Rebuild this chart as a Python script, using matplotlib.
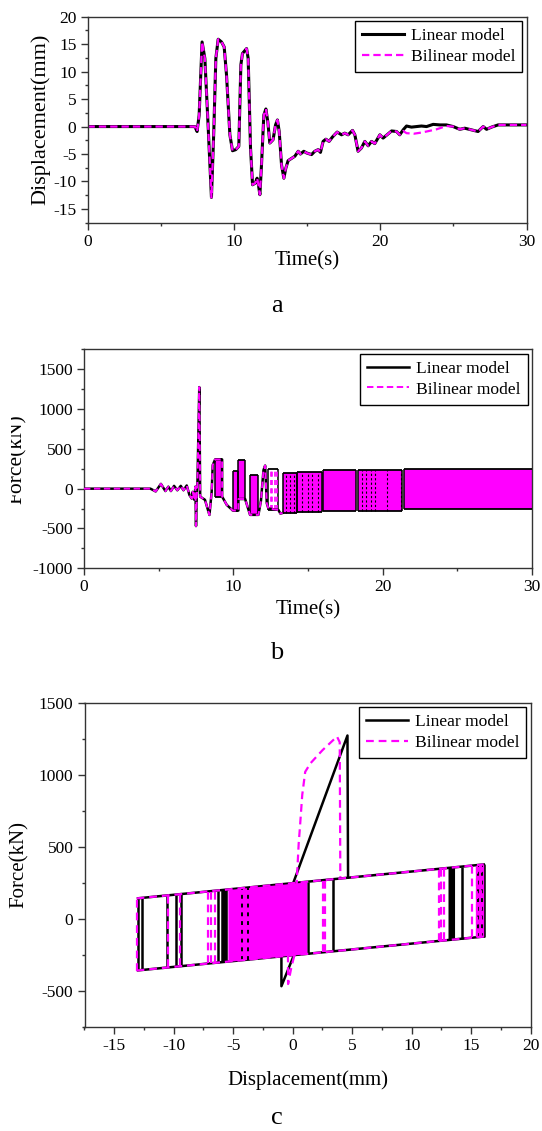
import numpy as np
import matplotlib
matplotlib.use('Agg')
import matplotlib.pyplot as plt
from matplotlib.ticker import MultipleLocator
from matplotlib.patches import Rectangle

plt.rcParams['font.family'] = ['Liberation Serif', 'DejaVu Serif']
plt.rcParams['axes.unicode_minus'] = False

MAG = '#ff00ff'

## (a) displacement history, linear model
a_time = [0.0, 7.33, 7.49, 7.63, 7.83, 8.02, 8.24, 8.47, 8.63, 8.77,
          8.93, 9.16, 9.34, 9.50, 9.73, 9.91, 10.13, 10.34, 10.48, 10.59,
          10.87, 10.98, 11.14, 11.28, 11.46, 11.59, 11.68, 11.78, 11.89, 12.05,
          12.19, 12.32, 12.46, 12.68, 12.85, 12.98, 13.10, 13.26, 13.42, 13.55,
          13.71, 13.94, 14.17, 14.40, 14.55, 14.78, 14.97, 15.31, 15.53, 15.76,
          15.92, 16.10, 16.29, 16.51, 16.74, 17.06, 17.36, 17.58, 17.81, 18.11,
          18.27, 18.49, 18.72, 18.95, 19.18, 19.41, 19.63, 19.98, 20.20, 20.47,
          20.78, 21.12, 21.34, 21.57, 21.80, 22.14, 22.48, 22.82, 23.17, 23.62,
          24.08, 24.53, 24.99, 25.44, 25.78, 26.24, 26.69, 27.04, 27.27, 27.61,
          28.06, 28.63, 30.0]
a_disp = [0.0, 0.0, -0.9, 2.1, 15.4, 12.4, 0.3, -12.9, -0.9, 12.4,
          15.9, 15.4, 14.5, 9.4, -1.5, -4.4, -4.2, -3.6, 11.2, 13.3,
          14.2, 12.4, -3.9, -10.6, -10.3, -9.4, -10.6, -12.4, -7.0, 2.1,
          3.2, 0.9, -3.0, -2.4, 0.3, 1.2, -0.9, -7.0, -9.4, -7.6,
          -6.2, -5.8, -5.4, -4.5, -5.0, -4.5, -4.8, -5.1, -4.5, -4.2,
          -4.7, -2.7, -2.3, -2.7, -1.9, -1.0, -1.5, -1.2, -1.5, -0.7,
          -1.5, -4.5, -3.9, -2.7, -3.5, -2.7, -3.1, -1.5, -2.1, -1.5,
          -0.8, -0.9, -1.5, -0.6, 0.1, -0.1, 0.0, 0.1, 0.0, 0.4,
          0.3, 0.3, 0.0, -0.5, -0.3, -0.6, -0.9, 0.0, -0.5, -0.1,
          0.3, 0.3, 0.3]
# bilinear model drifts below the linear one here
bil_win_time = [21.57, 21.80, 22.30, 22.80, 23.17, 23.85, 24.53]
bil_win_disp = [-0.8, -1.2, -1.3, -1.1, -0.9, -0.5, 0.1]

## (b) force history
b_time = [0.0, 4.45, 4.80, 5.15, 5.45, 5.65, 5.82, 6.03, 6.25, 6.48,
          6.66, 6.88, 7.06, 7.22, 7.28, 7.39, 7.46, 7.50, 7.55, 7.60,
          7.72, 7.76, 7.78, 8.10, 8.40, 8.55, 8.62, 8.78, 9.25, 9.25,
          9.56, 9.92, 9.96, 10.34, 10.34, 10.79, 11.12, 11.68, 11.85, 12.02,
          12.13, 12.24, 12.35, 13.02, 13.15, 13.30]
b_force = [0, 0, -35, 60, -30, 25, -30, 35, -20, 35,
           -20, 40, -80, -125, -40, -140, 25, -470, -100, 100,
           1275, 380, -100, -140, -330, -40, 296, 367, 367, -100,
           -204, -266, -275, -275, -130, -130, -329, -329, -150, 233,
           290, -183, -250, -267, -313, -305]
# stretches of rapid cycling: start, end, upper and lower force
b_blk_t0 = [8.78, 9.96, 10.34, 11.12, 13.30, 14.28, 16.03, 18.35, 21.40]
b_blk_t1 = [9.25, 10.34, 10.79, 11.68, 14.25, 15.93, 18.20, 21.30, 30.00]
b_blk_top = [367, 225, 355, 171, 200, 213, 234, 234, 250]
b_blk_bot = [-100, -275, -130, -329, -300, -288, -277, -285, -256]
b_open = [12.35, 13.02, 246, -262]
b_open_lines = [12.50, 12.62, 12.76, 12.90]
b_streaks = [13.55, 13.80, 14.05, 14.60, 15.00, 15.30, 15.70, 18.60, 18.90,
             19.20, 19.50, 20.30, 21.20]

## (c) hysteresis, force against displacement
c_up_lin = ([-13.0, 16.05], [141, 376])
c_lo_lin = ([-13.0, 16.05], [-360, -125])
c_up_bil = ([-13.12, 16.05], [140, 376])
c_lo_bil = ([-13.12, 16.05], [-361, -125])
c_lin_branch_d = [-13.0, -12.65, -10.6, -9.8, -9.35, -6.3, 1.3, 3.4, 14.25, 16.05]
c_lin_branch_top = [141, 144, 160, 167, 171, 195, 257, 274, 361, 376]
c_lin_branch_bot = [-360, -357, -340, -334, -330, -306, -243, -226, -140, -125]
c_bil_branch_d = [-13.12, -10.45, -9.5, -7.1, -6.9, -6.55, 2.55, 2.75,
                  12.3, 12.5, 12.7, 15.05, 15.45, 15.85]
c_bil_branch_top = [140, 161, 169, 188, 190, 193, 268, 270,
                    345, 347, 349, 368, 371, 375]
c_bil_branch_bot = [-361, -339, -332, -312, -311, -308, -233, -231,
                    -154, -152, -150, -131, -128, -124]
# densely cycled strips: (d range, top at ends, bottom at ends)
c_fill_bil = [((-5.45, 1.18), (202, 255), (-298, -244)),
              ((15.35, 16.05), (370, 376), (-129, -125))]
c_fill_lin = [((-6.05, -5.5), (197, 201), (-303, -299)),
              ((13.05, 13.6), (355, 359), (-146, -142))]
c_lin_dense_d = [-4.25, -3.75, 15.6, 15.9]
c_lin_dense_top = [209, 213, 373, 375]
c_lin_dense_bot = [-291, -287, -127, -125]
c_lin_peak_d = [-0.95, -0.95, 0.03, 0.03, 4.6, 4.65]
c_lin_peak_f = [-265, -470, -268, 244, 1272, 285]
c_bil_peak_d = [-0.40, -0.39, -0.11, 0.17, 0.35, 0.50, 0.62, 0.80, 1.05, 1.50,
                2.50, 3.40, 3.72, 3.95, 4.00]
c_bil_peak_f = [-250, -455, -337, -244, 280, 520, 650, 860, 1020, 1080,
                1170, 1240, 1265, 1225, 290]


W, H = 542.0, 1131.0
def px_axes(left, top, right, bottom):
    return [left / W, 1 - bottom / H, (right - left) / W, (bottom - top) / H]

def style(ax, xmaj, xmin, ymaj, ymin):
    ax.xaxis.set_major_locator(MultipleLocator(xmaj))
    ax.xaxis.set_minor_locator(MultipleLocator(xmin))
    ax.yaxis.set_major_locator(MultipleLocator(ymaj))
    ax.yaxis.set_minor_locator(MultipleLocator(ymin))
    ax.tick_params(which='both', direction='out', top=False, right=False,
                   labelsize=12.5, width=1.0, color='#333333', pad=3)
    ax.tick_params(which='major', length=5)
    ax.tick_params(which='minor', length=2.5)
    for s in ax.spines.values():
        s.set_linewidth(1.0)
        s.set_color('#333333')

def add_legend(ax):
    leg = ax.legend(loc='upper right', fontsize=12.6, fancybox=False,
                    edgecolor='black', framealpha=1, borderaxespad=0.25,
                    handlelength=2.4, handletextpad=0.4, borderpad=0.4,
                    labelspacing=0.25)
    leg.get_frame().set_linewidth(1.0)

fig = plt.figure(figsize=(W / 100, H / 100), dpi=100)

# ---- a
ax = fig.add_axes(px_axes(87.5, 16.7, 526.5, 222.7))
bil_time = [t for t in a_time if t < 21.5] + bil_win_time + [t for t in a_time if t > 24.6]
bil_disp = ([d for t, d in zip(a_time, a_disp) if t < 21.5] + bil_win_disp +
            [d for t, d in zip(a_time, a_disp) if t > 24.6])
ax.plot(a_time, a_disp, color='k', lw=2.2, label='Linear model')
ax.plot(bil_time, bil_disp, color=MAG, lw=1.6, dashes=(3.3, 1.8), label='Bilinear model')
ax.set_xlim(0, 30)
ax.set_ylim(-17.5, 20)
style(ax, 10, 5, 5, 2.5)
ax.set_xlabel('Time(s)', fontsize=15)
ax.set_ylabel('Displacement(mm)', fontsize=16)
ax.xaxis.set_label_coords(0.5, -0.14)
ax.yaxis.set_label_coords(-0.085, 0.5)
add_legend(ax)

# ---- b
ax = fig.add_axes(px_axes(84, 349.3, 532, 568.3))
for t0, t1, top, bot in zip(b_blk_t0, b_blk_t1, b_blk_top, b_blk_bot):
    ax.fill_between([t0, t1], [bot, bot], [top, top], color=MAG, lw=0, zorder=2)
ax.hlines(b_blk_top, b_blk_t0, b_blk_t1, colors='k', lw=1.3, zorder=3)
ax.hlines(b_blk_bot, b_blk_t0, b_blk_t1, colors='k', lw=1.3, zorder=3)
ax.vlines(b_blk_t0 + b_blk_t1[:-1], b_blk_bot + b_blk_bot[:-1],
          b_blk_top + b_blk_top[:-1], colors='k', lw=1.1, zorder=3)
idx = np.searchsorted(b_blk_t0, b_streaks) - 1
ax.vlines(b_streaks, np.array(b_blk_bot)[idx], np.array(b_blk_top)[idx],
          colors='k', lw=0.8, linestyles=(0, (2, 2)), zorder=3)
t0, t1, top, bot = b_open
ax.hlines([top, bot], t0, t1, colors='k', lw=1.3, zorder=3)
ax.vlines([t0, t1], bot, top, colors='k', lw=1.1, zorder=3)
ax.vlines(b_open_lines, bot, top, colors=MAG, lw=1.2, linestyles=(0, (3, 2)), zorder=3)
ax.plot(b_time, b_force, color='k', lw=1.8, zorder=4, label='Linear model')
ax.plot(b_time, b_force, color=MAG, lw=1.4, dashes=(3.3, 1.8), zorder=5,
        label='Bilinear model')
ax.set_xlim(0, 30)
ax.set_ylim(-1000, 1750)
style(ax, 10, 5, 500, 250)
ax.set_xlabel('Time(s)', fontsize=15)
ax.set_ylabel('Force(kN)', fontsize=15.5)
ax.xaxis.set_label_coords(0.5, -0.145)
ax.yaxis.set_label_coords(-0.128, 0.5)
add_legend(ax)
# left margin strip trims the edge of the force label
fig.add_artist(Rectangle((0, 1 - 540 / H), 11 / W, 130 / H, transform=fig.transFigure,
                         facecolor='white', edgecolor='none', zorder=10))

# ---- c
ax = fig.add_axes(px_axes(84.5, 702.7, 530.7, 1026.5))
ax.plot(c_lin_peak_d, c_lin_peak_f, color='k', lw=1.8, zorder=2)
ax.plot(*c_up_lin, color='k', lw=1.8, zorder=3, label='Linear model')
ax.plot(*c_lo_lin, color='k', lw=1.8, zorder=3)
ax.vlines(c_lin_branch_d, c_lin_branch_bot, c_lin_branch_top, colors='k', lw=1.8, zorder=3)
for xs, tops, bots in c_fill_bil:
    ax.fill_between(xs, bots, tops, color=MAG, lw=0, zorder=4)
for xs, tops, bots in c_fill_lin:
    ax.fill_between(xs, bots, tops, color='k', lw=0, zorder=4)
ax.vlines(c_lin_dense_d, c_lin_dense_bot, c_lin_dense_top,
          colors='k', lw=1.4, linestyles=(0, (2, 2.5)), zorder=4.5)
ax.plot(*c_up_bil, color=MAG, lw=1.6, dashes=(3.5, 2.2), zorder=5, label='Bilinear model')
ax.plot(*c_lo_bil, color=MAG, lw=1.6, dashes=(3.5, 2.2), zorder=5)
ax.vlines(c_bil_branch_d, c_bil_branch_bot, c_bil_branch_top, colors=MAG, lw=1.6,
          linestyles=(0, (3.5, 2.2)), zorder=5)
ax.plot(c_bil_peak_d, c_bil_peak_f, color=MAG, lw=1.6, dashes=(3.5, 2.2), zorder=5)
ax.set_xlim(-17.5, 20)
ax.set_ylim(-750, 1500)
style(ax, 5, 2.5, 500, 250)
ax.set_xlabel('Displacement(mm)', fontsize=15)
ax.set_ylabel('Force(kN)', fontsize=15)
ax.xaxis.set_label_coords(0.5, -0.134)
ax.yaxis.set_label_coords(-0.125, 0.5)
add_legend(ax)

for letter, base in zip(['a', 'b', 'c'], [311.7, 659, 1124]):
    fig.text(277 / W, 1 - base / H, letter, fontsize=19, ha='center', va='baseline')

fig.savefig('out.png', dpi=100)
